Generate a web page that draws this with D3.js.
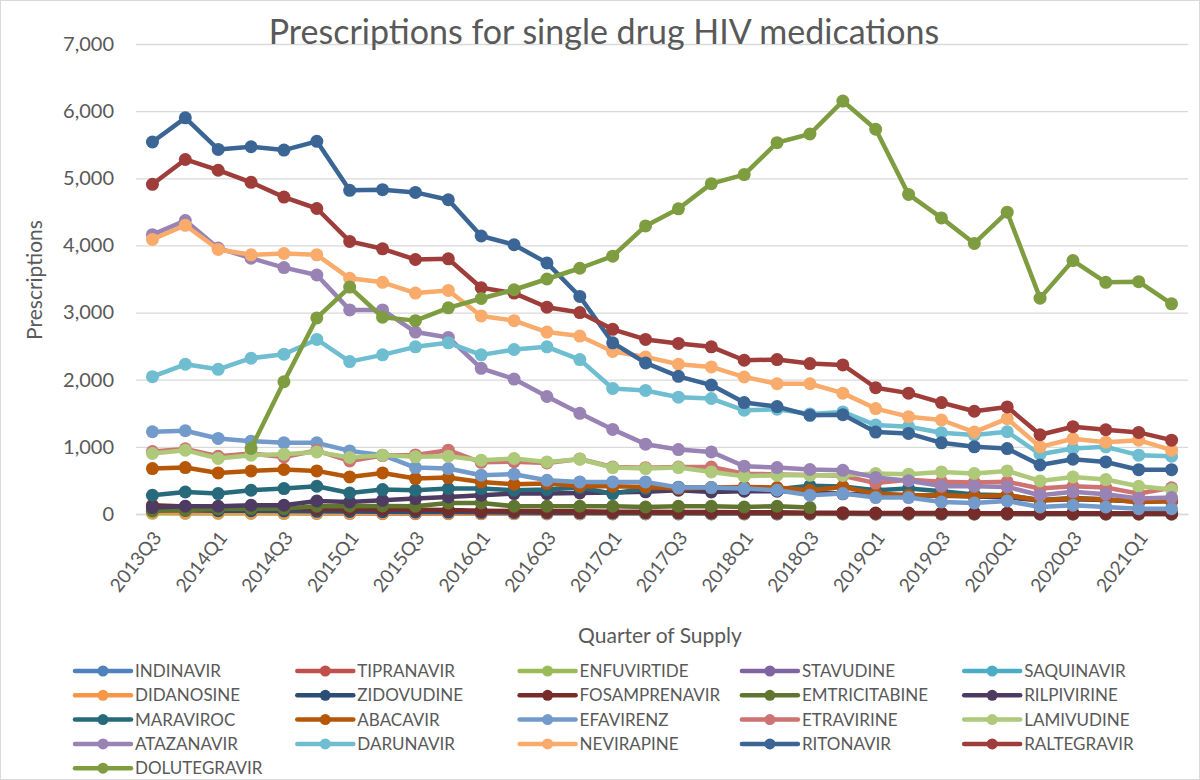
<!DOCTYPE html>
<html>
<head>
<meta charset="utf-8">
<script src="https://cdn.jsdelivr.net/npm/d3@7"></script>
<style>
  body { margin: 0; background: #fff; }
  svg text { font-family: Lato, "Open Sans", sans-serif; fill: #595959; }
</style>
</head>
<body>
<svg id="chart" width="1200" height="780"></svg>
<script>
// quarters of supply
const quarters = ["2013Q3","2013Q4","2014Q1","2014Q2","2014Q3","2014Q4","2015Q1","2015Q2",
  "2015Q3","2015Q4","2016Q1","2016Q2","2016Q3","2016Q4","2017Q1","2017Q2",
  "2017Q3","2017Q4","2018Q1","2018Q2","2018Q3","2018Q4","2019Q1","2019Q2",
  "2019Q3","2019Q4","2020Q1","2020Q2","2020Q3","2020Q4","2021Q1","2021Q2"];
const yTicks = [0, 1000, 2000, 3000, 4000, 5000, 6000, 7000];

const drugs = ["INDINAVIR","TIPRANAVIR","ENFUVIRTIDE","STAVUDINE","SAQUINAVIR","DIDANOSINE",
  "ZIDOVUDINE","FOSAMPRENAVIR","EMTRICITABINE","RILPIVIRINE","MARAVIROC","ABACAVIR",
  "EFAVIRENZ","ETRAVIRINE","LAMIVUDINE","ATAZANAVIR","DARUNAVIR","NEVIRAPINE",
  "RITONAVIR","RALTEGRAVIR","DOLUTEGRAVIR"];
const colors = ["#4F81BD","#C0504D","#9BBB59","#8064A2","#4BACC6","#F79646",
  "#2C4D75","#772C2A","#5F7530","#4D3B62","#276A7C","#B65708",
  "#729ACA","#CD7371","#AFC97A","#9983B5","#6FBDD1","#F9AB6B",
  "#3A6595","#9E3D3A","#7E9D40"];

const indinavir = [30,28,26,22,20,18,16,14,12,11,10,8,8,6,5,5,5,4,4,3,3,3,2,2,2,2,2,1,1,1,1,1];
const tipranavir = [40,36,32,30,28,25,22,20,18,16,14,12,10,10,8,8,7,6,6,5,5,4,4,4,3,3,3,2,2,2,2,2];
const enfuvirtide = [10,9,8,8,7,6,6,5,5,4,4,4,3,3,3,2,2,2,2,2,1,1,1,1,1,1,1,1,1,1,1,1];
const stavudine = [35,30,25,22,20,16,14,12,10,8,7,6,5,5,4,4,3,3,2,2,2,2,1,1,1,1,1,1,1,1,1,1];
const saquinavir = [45,42,40,38,42,35,30,30,25,22,20,18,15,14,12,10,10,8,8,7,6,6,5,5,5,4,4,4,3,3,3,3];
const didanosine = [25,22,20,18,15,14,12,10,10,8,8,6,6,5,5,4,4,3,3,3,2,2,2,2,1,1,1,1,1,1,1,1];
const zidovudine = [60,55,50,48,45,40,38,35,30,28,25,22,20,18,16,15,14,12,12,10,10,9,8,8,7,7,6,5,5,5,4,4];
const fosamprenavir = [130,110,100,95,90,80,75,70,65,60,50,45,40,40,35,35,30,30,25,25,20,20,15,15,15,12,12,10,10,10,8,8];
const emtricitabine = [45,60,75,80,80,115,115,120,115,164,164,115,115,115,115,104,115,115,104,115,95,
  null,null,null,null,null,null,null,null,null,null,null];
const rilpivirine = [95,115,115,130,130,194,179,204,230,254,279,304,304,313,320,330,354,328,340,340,330,300,290,280,270,260,250,200,220,210,190,190];
const maraviroc = [279,328,304,354,379,413,313,364,354,379,379,354,364,394,304,379,400,390,380,370,420,410,354,379,340,290,280,210,240,220,180,200];
const abacavir = [677,692,612,642,663,642,552,612,528,543,478,443,454,413,413,403,379,394,403,394,354,403,304,279,279,264,279,204,230,215,179,194];
const efavirenz = [1225,1240,1125,1085,1060,1060,940,876,692,677,578,593,503,478,478,478,394,394,379,354,279,304,245,245,179,164,194,104,130,104,80,80];
const etravirine = [930,970,860,900,850,945,790,870,880,950,770,780,760,820,700,690,700,700,600,590,580,570,460,510,480,470,480,380,413,394,304,390];
const lamivudine = [901,951,827,876,891,925,842,876,851,861,801,827,776,816,692,677,692,627,563,578,578,578,603,593,627,603,642,493,552,513,413,364];
const atazanavir = [4160,4370,3960,3810,3670,3560,3040,3040,2710,2630,2170,2010,1750,1500,1260,1040,960,925,712,692,663,650,545,495,415,413,403,280,330,295,232,245];
const darunavir = [2045,2230,2155,2320,2380,2600,2270,2370,2490,2550,2370,2450,2490,2300,1870,1840,1740,1720,1545,1560,1490,1520,1325,1300,1210,1175,1225,890,975,1000,876,860];
const nevirapine = [4090,4300,3940,3860,3880,3860,3510,3450,3290,3330,2950,2880,2710,2650,2420,2340,2230,2190,2040,1940,1940,1800,1570,1450,1400,1220,1420,1000,1120,1070,1100,950];
const ritonavir = [5540,5900,5430,5470,5420,5550,4820,4830,4790,4680,4140,4010,3740,3240,2550,2250,2050,1920,1660,1600,1470,1480,1220,1200,1060,1000,975,730,815,775,660,660];
const raltegravir = [4910,5280,5120,4940,4720,4550,4060,3950,3790,3800,3370,3290,3080,3000,2750,2600,2540,2490,2290,2300,2240,2220,1880,1800,1660,1530,1595,1180,1300,1255,1215,1100];
const dolutegravir = [null,null,null,976,1970,2920,3380,2930,2880,3070,3210,3340,3500,3660,3840,4290,4545,4920,5055,5530,5660,6150,5730,4760,4410,4030,4495,3215,3775,3450,3460,3130];

const values = [indinavir, tipranavir, enfuvirtide, stavudine, saquinavir, didanosine,
  zidovudine, fosamprenavir, emtricitabine, rilpivirine, maraviroc, abacavir,
  efavirenz, etravirine, lamivudine, atazanavir, darunavir, nevirapine,
  ritonavir, raltegravir, dolutegravir];

const series = drugs.map((name, i) => ({ name: name, color: colors[i], values: values[i] }));

const svg = d3.select("#chart");
const plot = { left: 136, right: 1188, top: 44, bottom: 514 };

svg.append("rect").attr("x", 0.5).attr("y", 0.5).attr("width", 1199).attr("height", 779)
  .attr("fill", "#fff").attr("stroke", "#D9D9D9");

const x = d3.scaleBand().domain(quarters).range([plot.left, plot.right]);
const y = d3.scaleLinear().domain([0, 7000]).range([plot.bottom, plot.top]);
const cx = (q) => x(q) + x.bandwidth() / 2;

// gridlines + y labels
const yAxis = svg.append("g")
  .attr("transform", "translate(" + plot.left + ",0)")
  .call(d3.axisLeft(y).tickValues(yTicks).tickFormat(d3.format(","))
    .tickSize(-(plot.right - plot.left)).tickPadding(22));
yAxis.select(".domain").remove();
yAxis.selectAll("line").attr("stroke", "#D9D9D9").attr("stroke-width", 1.3);
yAxis.selectAll("text").attr("font-size", 20).attr("fill", "#595959")
  .style("font-family", "Lato, sans-serif");

// x axis
const xAxis = svg.append("g")
  .attr("transform", "translate(0," + plot.bottom + ")")
  .call(d3.axisBottom(x).tickValues(quarters.filter((q, i) => i % 2 === 0)).tickSize(0));
xAxis.select(".domain").attr("stroke", "#D9D9D9").attr("stroke-width", 1.3);
xAxis.selectAll("text")
  .attr("font-size", 19)
  .attr("text-anchor", "end")
  .attr("dy", 0)
  .attr("y", 0)
  .attr("transform", "translate(10,24) rotate(-52)")
  .style("font-family", "Lato, sans-serif");

// lines
const line = d3.line()
  .defined((d) => d != null)
  .x((d, i) => cx(quarters[i]))
  .y((d) => y(d));

const g = svg.append("g");
series.forEach((s) => {
  g.append("path")
    .datum(s.values)
    .attr("fill", "none")
    .attr("stroke", s.color)
    .attr("stroke-width", 4.5)
    .attr("stroke-linejoin", "round")
    .attr("d", line);
  g.selectAll(null)
    .data(s.values.map((v, i) => ({ v: v, q: quarters[i] })).filter((d) => d.v != null))
    .enter().append("circle")
    .attr("cx", (d) => cx(d.q))
    .attr("cy", (d) => y(d.v))
    .attr("r", 6.5)
    .attr("fill", s.color);
});

// titles
svg.append("text").attr("x", 604).attr("y", 44).attr("text-anchor", "middle")
  .attr("font-size", 34).text("Prescriptions for single drug HIV medications");
svg.append("text").attr("transform", "translate(42,280) rotate(-90)")
  .attr("text-anchor", "middle").attr("font-size", 21).text("Prescriptions");
svg.append("text").attr("x", 660).attr("y", 643).attr("text-anchor", "middle")
  .attr("font-size", 21).text("Quarter of Supply");

// legend
const legend = svg.append("g");
series.forEach((s, i) => {
  const col = i % 5, row = Math.floor(i / 5);
  const lx = 75 + col * 222.3, ly = 671 + row * 24.3;
  const item = legend.append("g").attr("transform", "translate(" + lx + "," + ly + ")");
  item.append("line").attr("x1", 0).attr("x2", 56).attr("y1", 0).attr("y2", 0)
    .attr("stroke", s.color).attr("stroke-width", 4.5).attr("stroke-linecap", "round");
  item.append("circle").attr("cx", 28).attr("cy", 0).attr("r", 5.5).attr("fill", s.color);
  item.append("text").attr("x", 60).attr("y", 0).attr("dy", "0.35em")
    .attr("font-size", 17).text(s.name);
});
</script>
</body>
</html>
